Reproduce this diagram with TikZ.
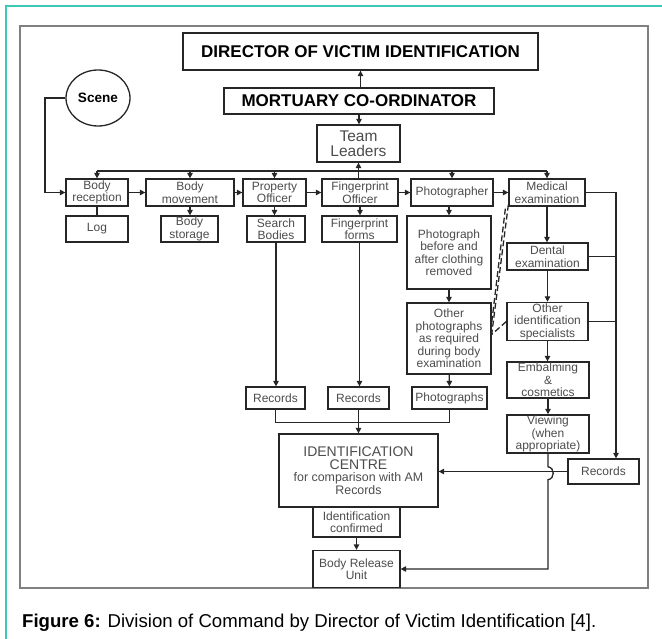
\documentclass[tikz,border=0pt]{standalone}
\usepackage{fontspec}
\setmainfont{Liberation Sans}
\usepackage{xcolor}
\definecolor{tGray}{gray}{0.3}
\definecolor{fGray}{gray}{0.5}
\definecolor{frameTeal}{RGB}{60,200,180}
\usetikzlibrary{arrows.meta}
\usetikzlibrary{shapes.geometric}

\begin{document}
\begin{tikzpicture}[x=1pt,y=-1pt,
    box/.style={draw=black!85,line width=1.3pt,inner sep=1pt,align=center,text=tGray,font=\fontsize{12}{12.5}\selectfont},
    titlebox/.style={box,text=black,font=\bfseries\fontsize{17}{17}\selectfont},
    ln/.style={draw=black!85,line width=1.3pt},
    arr/.style={ln,-{Triangle[length=5.5pt,width=5.5pt]}},
    dsh/.style={ln,dash pattern=on 6pt off 3pt}]
        \useasboundingbox (0,0) rectangle (662,639);
        \draw [frameTeal, line width=1.5pt] (6,639) -- (6,6) -- (662,6);
        \draw [fGray, line width=2pt] (20,26) rectangle (648,588);

        \node [titlebox, minimum width=355pt, minimum height=37pt] (dir) at (360.5,51.5) {DIRECTOR OF VICTIM IDENTIFICATION};
        \node [titlebox, minimum width=270pt, minimum height=26pt] (mort) at (359,101) {MORTUARY CO-ORDINATOR};
        \node [box, font=\fontsize{15.5}{15}\selectfont, minimum width=83pt, minimum height=37pt] (team) at (358.5,143.5) {Team\\Leaders};
        \node [box, ellipse, text=black, font=\bfseries\fontsize{13.6}{14}\selectfont, minimum width=64pt, minimum height=56pt] (scene) at (98,98) {Scene};

        \node [box, minimum width=62pt, minimum height=27pt] (brec) at (97,192.5) {Body\\reception};
        \node [box, minimum width=88pt, minimum height=27pt] (bmov) at (190,192.5) {Body\\movement};
        \node [box, minimum width=63pt, minimum height=27pt] (prop) at (274.5,192.5) {Property\\Officer};
        \node [box, minimum width=76pt, minimum height=27pt] (fpo) at (360,192.5) {Fingerprint\\Officer};
        \node [box, minimum width=82pt, minimum height=27pt] (phot) at (452,192.5) {Photographer};
        \node [box, minimum width=76pt, minimum height=27pt] (med) at (547,192.5) {Medical\\examination};

        \node [box, minimum width=62pt, minimum height=26pt] (log) at (97,229) {Log};
        \node [box, minimum width=57pt, minimum height=26pt] (bsto) at (189.5,229) {Body\\storage};
        \node [box, minimum width=58pt, minimum height=26pt] (srch) at (276,229) {Search\\Bodies};
        \node [box, minimum width=75pt, minimum height=26pt] (fpf) at (359.5,229) {Fingerprint\\forms};

        \node [box, minimum width=84pt, minimum height=73pt] (phb) at (449,252.5) {Photograph\\before and\\after clothing\\removed};
        \node [box, minimum width=84pt, minimum height=71pt] (pho) at (449,338.5) {Other\\photographs\\as required\\during body\\examination};
        \node [box, minimum width=81pt, minimum height=27pt] (dent) at (547.5,256.5) {Dental\\examination};
        \node [box, minimum width=81pt, minimum height=37pt] (oid) at (547.5,321.5) {Other\\identification\\specialists};
        \node [box, minimum width=82pt, minimum height=36pt] (emb) at (548,380) {Embalming\\\&\\cosmetics};
        \node [box, minimum width=82pt, minimum height=36pt] (view) at (548,434) {Viewing\\(when\\appropriate)};

        \node [box, minimum width=59pt, minimum height=22pt] (rec1) at (275.5,398) {Records};
        \node [box, minimum width=61pt, minimum height=22pt] (rec2) at (358.5,398) {Records};
        \node [box, minimum width=75pt, minimum height=22pt] (phs) at (449.5,398) {Photographs};
        \node [box, minimum width=159pt, minimum height=73pt] (idc) at (358.5,470.5) {\fontsize{14}{13}\selectfont IDENTIFICATION\\\fontsize{14}{13}\selectfont CENTRE\\\fontsize{12.4}{13.5}\selectfont for comparison with AM\\\fontsize{12.4}{11.5}\selectfont Records};
        \node [box, minimum width=87pt, minimum height=30pt] (idf) at (356.5,522) {Identification\\confirmed};
        \node [box, minimum width=87pt, minimum height=37pt] (bru) at (356.5,569) {Body Release\\Unit};
        \node [box, minimum width=71pt, minimum height=25pt] (rec3) at (603.5,471.5) {Records};

        \node [anchor=base west, inner sep=0pt, font=\fontsize{18.6}{20}\selectfont] (cap) at (22,627) {\textbf{Figure 6:} Division of Command by Director of Victim Identification [4].};

        \draw [arr, {Triangle[length=5.5pt,width=5.5pt]}-] (dir.south) -- (dir.south |- mort.north);
        \draw [arr] (mort.south) -- (mort.south |- team.north);
        \draw [arr, {Triangle[length=5.5pt,width=5.5pt]}-] (team.south) -- (team.south |- fpo.north);
        \coordinate (bus) at (0,171);
        \draw [ln] (bus -| brec.north) -- (bus -| med.north);
        \foreach \n in {brec,bmov,prop,phot,med}
          \draw [arr] (bus -| \n.north) -- (\n.north);

        \coordinate (sc) at (45,0);
        \draw [arr] (scene.west) -- (scene.west -| sc) |- (brec.west);
        \draw [arr] (brec) -- (bmov);
        \draw [arr] (bmov) -- (prop);
        \draw [arr] (prop) -- (fpo);
        \draw [arr] (fpo) -- (phot);
        \draw [arr] (phot) -- (med);

        \draw [ln] (brec.south) -- (log.north);
        \draw [arr] (bmov.south) -- (bmov.south |- bsto.north);
        \draw [arr] (prop.south) -- (prop.south |- srch.north);
        \draw [arr] (fpo.south) -- (fpo.south |- fpf.north);
        \draw [arr] (srch.south) -- (srch.south |- rec1.north);
        \draw [arr] (fpf.south) -- (fpf.south |- rec2.north);

        \draw [arr] (phb.north |- phot.south) -- (phb.north);
        \draw [arr] (phb) -- (pho);
        \draw [arr] (pho) -- (phs);
        \draw [ln] (rec1.south) -- ++(0,13) -| (phs.south);
        \draw [arr] (rec2.south) -- (rec2.south |- idc.north);

        \draw [arr] (med) -- (med |- dent.north);
        \draw [arr] (dent) -- (dent |- oid.north);
        \draw [arr] (oid) -- (oid |- emb.north);
        \draw [arr] (emb) -- (view);

        \coordinate (rc) at (616,0);
        \draw [ln] (med.east) -- (med.east -| rc);
        \draw [ln] (dent.east) -- (dent.east -| rc);
        \draw [ln] (oid.east) -- (oid.east -| rc);
        \draw [arr] (med.east -| rc) -- (rc |- rec3.north);
        \draw [arr] (rec3.west) -- (rec3.west -| idc.east);
        \draw [arr] (view.south) -- ++(0,13) .. controls +(7,1) and +(7,-1) .. ++(0,13) |- (bru.east);
        \draw [arr] (idf) -- (bru);

        \coordinate (dj) at ([yshift=4pt]pho.east);
        \draw [dsh] ([shift={(0,-2)}]med.south west) -- (dj);
        \draw [dsh] ([shift={(-3,2)}]med.south west) -- ([shift={(-1,-3)}]dj);
        \draw [dsh] (oid.west) -- (dj);
      \end{tikzpicture}
\end{document}
